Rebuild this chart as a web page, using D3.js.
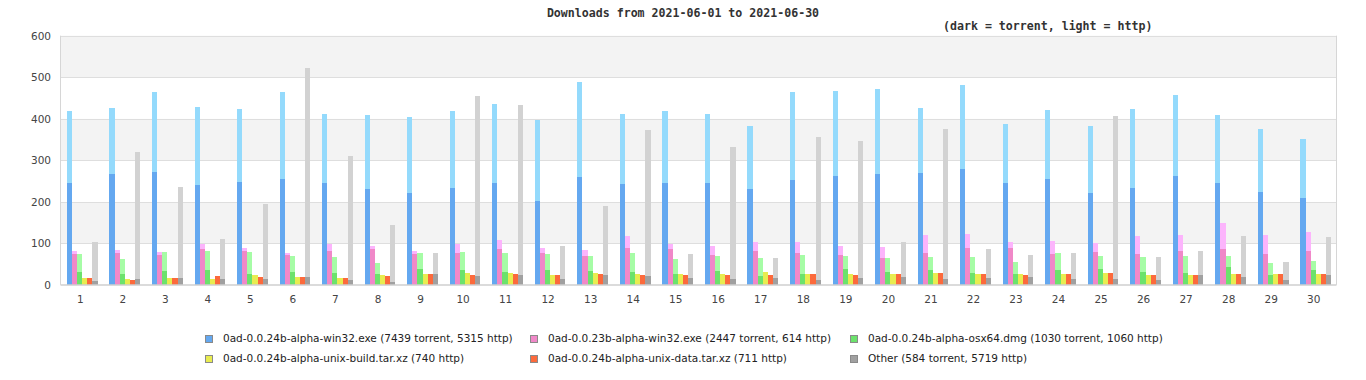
<!DOCTYPE html>
<html><head><meta charset="utf-8">
<script src="https://cdn.jsdelivr.net/npm/d3@7"></script>
<style>body{margin:0;background:#fff}svg{display:block}</style>
</head><body>
<svg id="c" width="1366" height="380"></svg>
<script>
const days = d3.range(1, 31).map(String);
const yTicks = [0, 100, 200, 300, 400, 500, 600];
const seriesNames = [
  "0ad-0.0.24b-alpha-win32.exe (7439 torrent, 5315 http)",
  "0ad-0.0.23b-alpha-win32.exe (2447 torrent, 614 http)",
  "0ad-0.0.24b-alpha-osx64.dmg (1030 torrent, 1060 http)",
  "0ad-0.0.24b-alpha-unix-build.tar.xz (740 http)",
  "0ad-0.0.24b-alpha-unix-data.tar.xz (711 http)",
  "Other (584 torrent, 5719 http)"
];
const win32T = [244,266,271,240,247,254,244,230,220,232,244,203,259,242,244,244,230,252,261,266,269,278,244,254,220,232,261,244,223,208];
const win32H = [175,160,194,188,176,211,167,179,184,187,192,194,230,169,175,167,152,213,206,206,157,204,143,167,162,191,196,165,152,143];
const win32oldT = [74,77,72,86,82,72,82,86,74,77,86,77,69,89,86,72,82,77,72,65,77,89,89,74,79,74,82,86,74,82];
const win32oldH = [8,7,7,12,7,5,16,8,8,21,22,12,15,29,12,22,21,26,22,26,43,34,14,32,22,44,38,62,46,45];
const osxT = [31,26,33,36,26,31,28,26,38,36,31,36,33,31,26,33,21,26,38,31,36,28,25,36,38,31,28,43,23,36];
const osxH = [43,36,46,46,53,38,39,26,39,43,46,38,36,46,36,36,44,46,31,34,31,39,31,41,31,36,41,26,29,21];
const unixBuildH = [16,14,16,14,23,18,16,23,25,28,28,23,28,26,26,26,30,26,26,26,28,26,25,26,28,23,23,26,26,26];
const unixDataH = [16,11,16,21,18,18,16,22,26,23,26,23,26,23,23,23,23,26,23,26,28,26,23,26,28,23,23,26,26,26];
const otherT = [9,14,16,14,14,19,11,7,26,21,23,14,23,21,16,14,16,11,16,19,14,16,18,14,14,11,23,19,11,23];
const otherH = [94,305,219,97,180,504,299,136,51,434,410,80,168,352,58,318,49,345,330,84,361,70,53,63,393,56,59,99,44,92];

const torrentData = [win32T, win32oldT, osxT, null, null, otherT];
const httpData = [win32H, win32oldH, osxH, unixBuildH, unixDataH, otherH];
const darkColors = ["#64a8f0", "#f088c8", "#6ce26c", "#e8ec50", "#fc6a3c", "#a0a0a0"];
const lightColors = ["#94dafc", "#fcb4fc", "#a6fca6", "#e8ec50", "#fc6a3c", "#d2d2d2"];

const svg = d3.select("#c");
const L = 60.5, R = 1336.5;
const y = d3.scaleLinear().domain([0, 600]).range([284.8, 35.7]);
const x = d3.scaleBand().domain(days).range([61, 1337]).paddingInner(0.28).paddingOuter(0.14);
const xs = d3.scaleBand().domain(d3.range(6)).range([0, x.bandwidth()]);

// background bands
const bands = d3.range(6);
svg.append("g").selectAll("rect").data(bands).join("rect")
  .attr("x", L).attr("width", R - L)
  .attr("y", d => y((d + 1) * 100)).attr("height", d => y(d * 100) - y((d + 1) * 100))
  .attr("fill", d => d % 2 ? "#f3f3f3" : "#ffffff");
// grid lines
svg.append("g").selectAll("line").data(yTicks.slice(1)).join("line")
  .attr("x1", L).attr("x2", R)
  .attr("y1", d => Math.round(y(d)) + 0.5).attr("y2", d => Math.round(y(d)) + 0.5)
  .attr("stroke", "#dedede").attr("stroke-width", 1.2);
// frame sides
svg.append("line").attr("x1", L).attr("x2", L).attr("y1", y(600)).attr("y2", y(0)).attr("stroke", "#d6d6d6");
svg.append("line").attr("x1", R).attr("x2", R).attr("y1", y(600)).attr("y2", y(0)).attr("stroke", "#d6d6d6");

// bars
const g = svg.append("g").attr("shape-rendering", "crispEdges");
for (let s = 0; s < 6; s++) {
  const gs = g.append("g");
  const T = torrentData[s], H = httpData[s];
  const rows = days.map((d, i) => ({d, t: T ? T[i] : 0, h: H[i]}));
  // http (light) part on top of torrent part
  gs.selectAll("rect.h").data(rows).join("rect").attr("class", "h")
    .attr("x", r => x(r.d) + xs(s)).attr("width", xs.bandwidth())
    .attr("y", r => y(r.t + r.h)).attr("height", r => y(r.t) - y(r.t + r.h))
    .attr("fill", lightColors[s]);
  if (T) {
    gs.selectAll("rect.t").data(rows).join("rect").attr("class", "t")
      .attr("x", r => x(r.d) + xs(s)).attr("width", xs.bandwidth())
      .attr("y", r => y(r.t)).attr("height", r => y(0) - y(r.t))
      .attr("fill", darkColors[s]);
  }
}

// baseline
svg.append("line").attr("x1", L).attr("x2", R).attr("y1", 285).attr("y2", 285)
  .attr("stroke", "#cfcfcf").attr("stroke-width", 1.6);

// y labels
svg.append("g").selectAll("text").data(yTicks).join("text")
  .attr("x", 51).attr("y", d => y(d) + 3.8).attr("text-anchor", "end")
  .attr("font-family", "DejaVu Sans").attr("font-size", "10.5px").attr("fill", "#444")
  .text(d => d);
// x labels
svg.append("g").selectAll("text").data(days).join("text")
  .attr("x", d => x(d) + x.bandwidth() / 2 - 2).attr("y", 302.5).attr("text-anchor", "middle")
  .attr("font-family", "DejaVu Sans").attr("font-size", "10.5px").attr("fill", "#444")
  .text(d => d);

// titles
svg.append("text").attr("x", 683).attr("y", 16.5).attr("text-anchor", "middle")
  .attr("font-family", "DejaVu Sans Mono").attr("font-weight", "bold").attr("font-size", "11.6px")
  .attr("fill", "#333").text("Downloads from 2021-06-01 to 2021-06-30");
svg.append("text").attr("x", 943).attr("y", 29.5)
  .attr("font-family", "DejaVu Sans Mono").attr("font-weight", "bold").attr("font-size", "11.6px")
  .attr("fill", "#333").text("(dark = torrent, light = http)");

// legend
const legX = [205, 530, 850], legY = [335, 355];
const leg = svg.append("g").selectAll("g").data(seriesNames).join("g")
  .attr("transform", (d, i) => `translate(${legX[i % 3]},${legY[Math.floor(i / 3)]})`);
leg.append("rect").attr("x", 0.5).attr("y", 0.5).attr("width", 7).attr("height", 7)
  .attr("fill", (d, i) => darkColors[i]).attr("stroke", "#8a8a8a").attr("stroke-width", 1);
leg.append("text").attr("x", 18).attr("y", 7)
  .attr("font-family", "DejaVu Sans").attr("font-size", "10.5px").attr("fill", "#222")
  .text(d => d);
</script>
</body></html>
